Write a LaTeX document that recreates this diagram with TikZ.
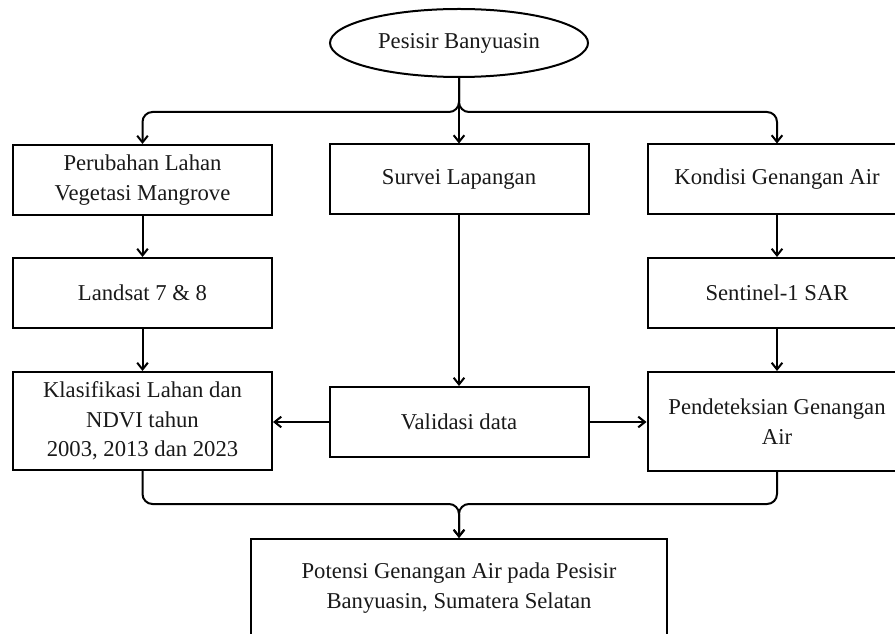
\documentclass[tikz,border=0pt]{standalone}
\usepackage{fontspec}
\setmainfont{Liberation Serif}
\usetikzlibrary{shapes.geometric,arrows.meta}
\begin{document}
\begin{tikzpicture}[x=0.75pt,y=-0.75pt,
  txt/.style={font=\fontsize{17}{22}\selectfont, text=black!90},
  box/.style={txt, draw, line width=1.5pt, rectangle, minimum width=259*0.75pt,
    inner sep=0pt, align=center},
  oval/.style={txt, draw, line width=1.5pt, ellipse, minimum width=258*0.75pt,
    minimum height=68*0.75pt, inner sep=0pt},
  arr/.style={line width=1.5pt, -{Straight Barb[length=5pt,width=8pt]}},
  elbow/.style={arr, rounded corners=7.5pt},
]
\useasboundingbox (0,0) rectangle (895,634);
\clip (0,0) rectangle (895,634);

\coordinate (top) at (0,112);
\coordinate (bot) at (0,504);

\node[oval] (ell) at (459,43) {Pesisir Banyuasin};

\node[box, minimum height=70*0.75pt] (per) at (142.5,180) {Perubahan Lahan\\Vegetasi Mangrove};
\node[box, minimum height=70*0.75pt] (lan) at (142.5,293) {Landsat 7 \& 8};
\node[box, minimum height=98*0.75pt] (kla) at (142.5,421) {Klasifikasi Lahan dan\\NDVI tahun\\2003, 2013 dan 2023};

\node[box, minimum height=70*0.75pt] (sur) at (459,179.5) {Survei Lapangan};
\node[box, minimum height=70*0.75pt] (val) at (459,422) {Validasi data};

\node[box, minimum height=70*0.75pt] (kon) at (777,179.5) {Kondisi Genangan Air};
\node[box, minimum height=70*0.75pt] (sen) at (777,293) {Sentinel-1 SAR};
\node[box, minimum height=99*0.75pt] (pen) at (777,421.5) {Pendeteksian Genangan\\Air};

\node[box, minimum width=416*0.75pt, anchor=north, inner ysep=18pt] (pot) at (459,538)
  {Potensi Genangan Air pada Pesisir\\Banyuasin, Sumatera Selatan};

% top distribution
\draw[arr] (ell.south) -- (sur.north);
\draw[elbow] (ell.south) -- (ell.south |- top) -- (per.north |- top) -- (per.north);
\draw[elbow] (ell.south) -- (ell.south |- top) -- (kon.north |- top) -- (kon.north);

% columns
\draw[arr] (per) -- (lan);
\draw[arr] (lan) -- (kla);
\draw[arr] (kon) -- (sen);
\draw[arr] (sen) -- (pen);
\draw[arr] (sur) -- (val);
\draw[arr] (val.west) -- (kla.east |- val.west);
\draw[arr] (val.east) -- (pen.west |- val.east);

% merge
\draw[elbow] (kla.south) -- (kla.south |- bot) -- (pot.north |- bot) -- (pot.north);
\draw[elbow] (pen.south) -- (pen.south |- bot) -- (pot.north |- bot) -- (pot.north);
\end{tikzpicture}
\end{document}
